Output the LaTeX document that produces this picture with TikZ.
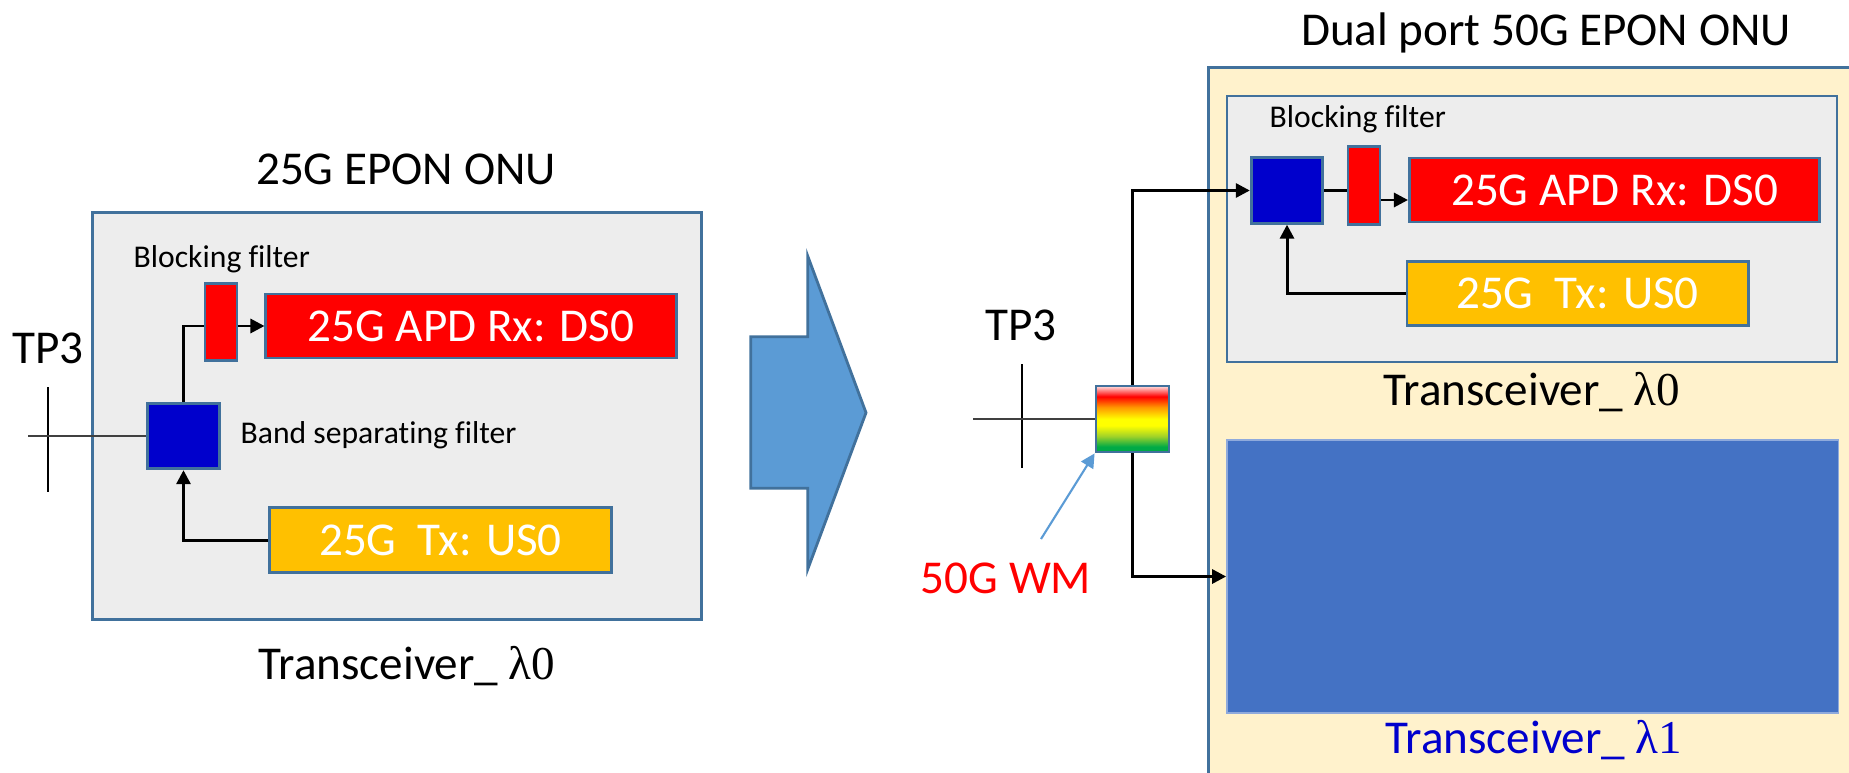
\documentclass[tikz,border=0pt]{standalone}
\usepackage{fontspec}
\setmainfont{Carlito}[Ligatures=NoCommon]
\newfontfamily\grkfont{Liberation Serif}
\usepackage{tikz}
\usetikzlibrary{arrows.meta, positioning, calc}
\definecolor{ponLine}{RGB}{65,113,156}
\definecolor{ponGrey}{RGB}{237,237,237}
\definecolor{ponCream}{RGB}{255,242,204}
\definecolor{ponNavy}{RGB}{0,0,204}
\definecolor{ponAmber}{RGB}{255,192,0}
\definecolor{ponBlue}{RGB}{68,114,196}
\definecolor{ponSky}{RGB}{91,155,213}
\definecolor{ponGreen}{RGB}{0,170,70}
\definecolor{ponLime}{RGB}{160,210,40}
\definecolor{ponOrange}{RGB}{255,150,0}
\definecolor{ponPink}{RGB}{255,225,225}
\pgfdeclareverticalshading{wmshade}{100bp}{color(0bp)=(ponGreen); color(29bp)=(ponGreen);
  color(37bp)=(ponLime); color(45bp)=(yellow); color(50bp)=(yellow); color(59bp)=(ponOrange);
  color(67bp)=(red); color(75bp)=(ponPink); color(100bp)=(ponPink)}

\begin{document}
\begin{tikzpicture}[
  x=0.01cm, y=-0.01cm,
  font=\fontsize{13.4}{16}\selectfont,
  box/.style={draw=ponLine, line width=0.8pt, inner sep=0pt},
  onu/.style={box, fill=ponGrey},
  rx/.style={box, fill=red, text=white,
             minimum width=4.1cm, minimum height=0.64cm},
  tx/.style={box, fill=ponAmber, text=white,
             minimum width=3.41cm, minimum height=0.645cm},
  bsf/.style={box, fill=ponNavy, minimum width=0.715cm, minimum height=0.655cm},
  blk/.style={box, fill=red, minimum width=0.32cm, minimum height=0.775cm},
  lbl/.style={font=\fontsize{9}{11}\selectfont, anchor=base west, inner sep=0pt},
  ttl/.style={anchor=base, inner sep=0pt},
  conn/.style={->, line width=0.85pt},
  >={Triangle[length=4pt, width=4pt]}
]
  \useasboundingbox (0,0) rectangle (1849,773);
  \clip (0,0) rectangle (1849,773);

  %% Left: 25G EPON ONU
  \node[ttl] (titleL) at (406,185) {25G EPON ONU};
  \node[onu, minimum width=6.08cm, minimum height=4.06cm] (onuL) at (397,416) {};
  \node[lbl] (blkLblL) at (133,267) {Blocking filter};
  \node[rx]  (rxL)  at (471,326) {25G APD Rx: DS0};
  \node[bsf] (bsfL) at (183.5,436) {};
  \node[lbl] (bsfLbl) at (240,443) {Band separating filter};
  \node[tx]  (txL)  at (440.5,540) {25G\ \ Tx: US0};
  \node[ttl] (tp3L) at (48,363) {TP3};
  \node[ttl] (trxL) at (407,679) {Transceiver\_ {\grkfont λ0}};

  %% TP3 reference plane
  \coordinate (tp3Ltop) at (48,387);
  \coordinate (tp3Lbot) at (48,492);
  \coordinate (tp3Lin)  at (28,436);
  \draw[line width=0.7pt] (tp3Ltop) -- (tp3Lbot);
  \draw[black!75, line width=0.5pt] (tp3Lin) -- (bsfL.west);

  %% paths inside the transceiver
  \draw[conn] (bsfL.north) |- (rxL.west);
  \draw[conn] (txL.west) -| (bsfL.south);
  \node[blk] (blkL) at (221,322) {};

  %% big arrow
  \draw[fill=ponSky, draw=ponLine, line width=0.8pt]
    (750.7,336.7) -- (807.7,336.7) -- (807.7,256) -- (866,412.7)
    -- (807.7,569.3) -- (807.7,488.3) -- (750.7,488.3) -- cycle;

  %% Right: dual port 50G EPON ONU
  \node[ttl] (titleR) at (1546,46) {Dual port 50G EPON ONU};
  \node[box, fill=ponCream, anchor=north west,
        minimum width=6.8cm, minimum height=7.5cm] (onuR) at (1207,66) {};
  \node[onu, line width=0.7pt, minimum width=6.1cm, minimum height=2.66cm] (trx0) at (1532,229) {};
  \node[lbl] (blkLblR) at (1269,127) {Blocking filter};
  \node[bsf] (bsfR) at (1287,190.5) {};
  \node[blk] (blkR) at (1364,185.5) {};
  \node[rx]  (rxR)  at (1614.5,190) {25G APD Rx: DS0};
  \node[tx]  (txR)  at (1577.5,293.5) {25G\ \ Tx: US0};
  \node[ttl] (trxR0) at (1532,405) {Transceiver\_ {\grkfont λ0}};
  \node[box, draw=ponBlue!60, line width=0.4pt, fill=ponBlue,
        minimum width=6.11cm, minimum height=2.73cm] (trx1) at (1532.5,576.5) {};
  \node[ttl, text=ponNavy] (trxR1) at (1534,753) {Transceiver\_ {\grkfont λ1}};

  %% TP3 and wavelength mux
  \node[ttl] (tp3R) at (1021,340) {TP3};
  \node[box, shade, shading=wmshade, minimum width=0.73cm, minimum height=0.66cm] (wm) at (1132.5,419) {};
  \coordinate (tp3Rtop) at (1022,364);
  \coordinate (tp3Rbot) at (1022,468);
  \coordinate (tp3Rin)  at (973,419);
  \draw[line width=0.7pt] (tp3Rtop) -- (tp3Rbot);
  \draw[black!75, line width=0.5pt] (tp3Rin) -- (wm.west);

  \node[ttl, text=red] (wmLbl) at (1006,593) {50G WM};
  \coordinate (wmTail) at (1041,539);
  \draw[->, ponSky, line width=0.6pt] (wmTail) -- (wm.south west);

  %% WM -> transceivers
  \draw[conn] (wm.north) |- (bsfR.west);
  \draw[conn] (wm.south) |- (trx1.west);
  \draw[line width=0.85pt] (bsfR.east) -- (bsfR.east -| blkR.west);
  \draw[conn] (blkR.east |- 0,200) -- (rxR.west |- 0,200);
  \draw[conn] (txR.west) -| (bsfR.south);

\end{tikzpicture}
\end{document}
